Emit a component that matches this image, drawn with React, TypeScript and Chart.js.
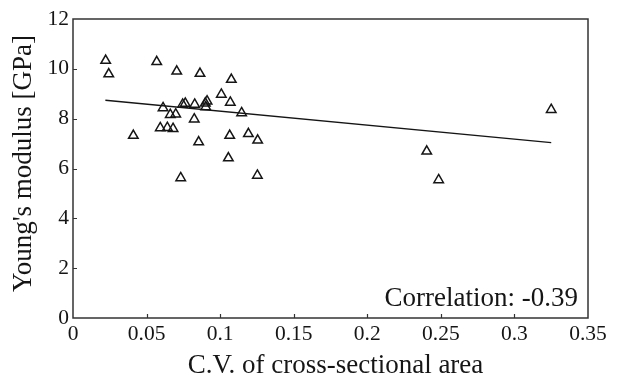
import { useEffect, useRef } from "react";
import { Chart, registerables } from "chart.js";

Chart.register(...registerables);

// Coefficient of variation of the cross-sectional area for each specimen
const cvArea = [
  0.0222, 0.0243, 0.0569, 0.0705, 0.0863, 0.1076, 0.1008, 0.1069, 0.0911, 0.0899,
  0.0902, 0.0827, 0.0763, 0.0745, 0.0612, 0.0661, 0.0698, 0.1146, 0.0824, 0.0593,
  0.0641, 0.068, 0.041, 0.0854, 0.1065, 0.1192, 0.1255, 0.1056, 0.0732, 0.1253,
  0.325, 0.2404, 0.2485,
];

// Young's modulus [GPa] of the same specimens
const youngsModulus = [
  10.33, 9.79, 10.28, 9.9, 9.81, 9.57, 8.97, 8.65, 8.7, 8.62,
  8.47, 8.57, 8.61, 8.57, 8.43, 8.16, 8.18, 8.23, 7.98, 7.63,
  7.64, 7.6, 7.32, 7.06, 7.32, 7.39, 7.13, 6.42, 5.62, 5.72,
  8.36, 6.69, 5.54,
];

// Least-squares fit line end points
const fitCv = [0.022, 0.325];
const fitModulus = [8.74, 7.04];

const xTicks = [0, 0.05, 0.1, 0.15, 0.2, 0.25, 0.3, 0.35];
const yTicks = [0, 2, 4, 6, 8, 10, 12];

const xTitle = "C.V. of cross-sectional area";
const yTitle = "Young's modulus [GPa]";
const correlationLabel = "Correlation: -0.39";

const SERIF = '"Liberation Serif", "Times New Roman", serif';
const INK = "#151515";

const fmt = (v: number) => String(Number(v.toFixed(2)));

// Box frame, inward tick marks, axis titles and the correlation note
const framePlugin = {
  id: "frameAndLabels",
  afterDraw(chart: any) {
    const { ctx, chartArea: a, scales } = chart;
    ctx.save();

    ctx.strokeStyle = "#333";
    ctx.lineWidth = 1.5;
    ctx.strokeRect(a.left, a.top, a.right - a.left, a.bottom - a.top);

    ctx.lineWidth = 1.2;
    ctx.beginPath();
    xTicks.slice(1, -1).forEach((v) => {
      const x = Math.round(scales.x.getPixelForValue(v)) + 0.5;
      ctx.moveTo(x, a.bottom);
      ctx.lineTo(x, a.bottom - 4);
    });
    yTicks.slice(1, -1).forEach((v) => {
      const y = Math.round(scales.y.getPixelForValue(v)) + 0.5;
      ctx.moveTo(a.left, y);
      ctx.lineTo(a.left + 4, y);
    });
    ctx.stroke();

    ctx.fillStyle = INK;
    ctx.font = `27px ${SERIF}`;
    ctx.textBaseline = "alphabetic";

    ctx.textAlign = "center";
    ctx.fillText(xTitle, (a.left + a.right) / 2 + 5, a.bottom + 55);

    ctx.save();
    ctx.translate(a.left - 42, (a.top + a.bottom) / 2 - 5);
    ctx.rotate(-Math.PI / 2);
    ctx.fillText(yTitle, 0, 0);
    ctx.restore();

    ctx.textAlign = "right";
    ctx.fillText(correlationLabel, a.right - 10, a.bottom - 12);

    ctx.restore();
  },
};

export default function App() {
  const canvasRef = useRef<HTMLCanvasElement | null>(null);

  useEffect(() => {
    const canvas = canvasRef.current;
    if (!canvas) return;

    const points = cvArea.map((x, i) => ({ x, y: youngsModulus[i] }));
    const fit = fitCv.map((x, i) => ({ x, y: fitModulus[i] }));

    const chart = new Chart(canvas, {
      type: "scatter",
      data: {
        datasets: [
          {
            label: "Specimens",
            data: points,
            pointStyle: "triangle",
            pointRadius: 5.5,
            pointBorderWidth: 1.5,
            borderColor: INK,
            backgroundColor: "rgba(255,255,255,0)",
          },
          {
            label: "Fit",
            type: "line",
            data: fit,
            showLine: true,
            pointRadius: 0,
            borderColor: INK,
            borderWidth: 1.3,
            fill: false,
          } as any,
        ],
      },
      options: {
        responsive: false,
        animation: false,
        devicePixelRatio: 1,
        layout: { padding: { top: 19, right: 39, left: 0, bottom: 0 } },
        plugins: {
          legend: { display: false },
          tooltip: { enabled: false },
        },
        scales: {
          x: {
            type: "linear",
            min: 0,
            max: 0.35,
            grid: { display: false, drawTicks: false },
            border: { display: false },
            afterBuildTicks: (s: any) => {
              s.ticks = xTicks.map((value) => ({ value }));
            },
            afterFit: (s: any) => {
              s.height = 60;
            },
            ticks: {
              padding: 3,
              color: INK,
              font: { family: SERIF, size: 21.5 },
              maxRotation: 0,
              autoSkip: false,
              callback: (v: any) => fmt(Number(v)),
            },
          },
          y: {
            type: "linear",
            min: 0,
            max: 12,
            grid: { display: false, drawTicks: false },
            border: { display: false },
            afterBuildTicks: (s: any) => {
              s.ticks = yTicks.map((value) => ({ value }));
            },
            afterFit: (s: any) => {
              s.width = 73;
            },
            ticks: {
              padding: 4,
              color: INK,
              font: { family: SERIF, size: 21.5 },
              autoSkip: false,
              callback: (v: any) => fmt(Number(v)),
            },
          },
        },
      },
      plugins: [framePlugin],
    });

    return () => chart.destroy();
  }, []);

  return (
    <div style={{ position: "absolute", left: 0, top: 0, width: 627, height: 378, background: "#fff" }}>
      <canvas ref={canvasRef} width={627} height={378} style={{ width: 627, height: 378, display: "block" }} />
    </div>
  );
}
